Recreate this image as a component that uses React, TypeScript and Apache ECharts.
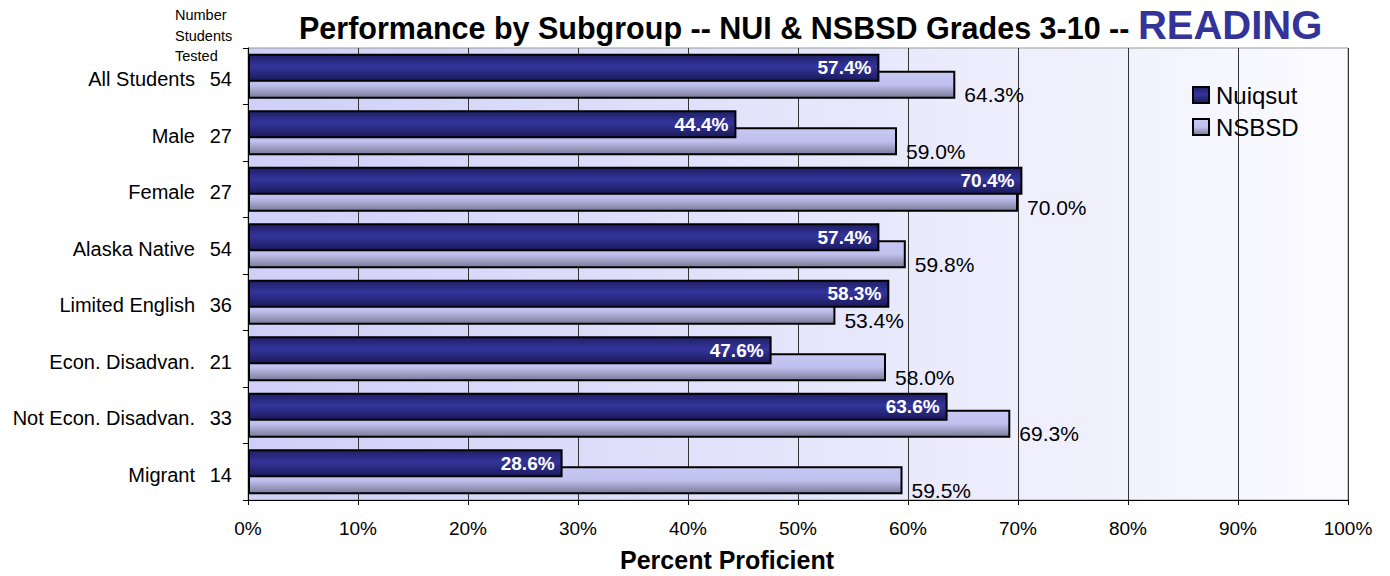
import React, { useEffect, useRef } from "react";
import * as echarts from "echarts";

const categories = [
  "All Students",
  "Male",
  "Female",
  "Alaska Native",
  "Limited English",
  "Econ. Disadvan.",
  "Not Econ. Disadvan.",
  "Migrant",
];
const counts = [54, 27, 27, 54, 36, 21, 33, 14];
const nuiqsut = [57.4, 44.4, 70.4, 57.4, 58.3, 47.6, 63.6, 28.6];
const nsbsd = [64.3, 59.0, 70.0, 59.8, 53.4, 58.0, 69.3, 59.5];
const xTicks = [0, 10, 20, 30, 40, 50, 60, 70, 80, 90, 100];

const FONT = "Liberation Sans, Arial, sans-serif";

export default function App() {
  const ref = useRef<HTMLDivElement>(null);
  useEffect(() => {
    if (!ref.current) return;
    const chart = echarts.init(ref.current, null, { renderer: "svg" });
    const labels = categories.map((c, i) => `{n|${c}}{c|${counts[i]}}`);
    chart.setOption({
      animation: false,
      textStyle: { fontFamily: FONT },
      title: {
        text: "{a|Performance by Subgroup -- NUI & NSBSD Grades 3-10 -- }{b|READING}",
        left: 294,
        top: 0,
        textStyle: {
          rich: {
            a: { fontSize: 30.5, fontWeight: "bold", color: "#000", fontFamily: FONT, verticalAlign: "bottom", padding: [0, 0, 2, 0] },
            b: { fontSize: 40, fontWeight: "bold", color: "#333399", fontFamily: FONT, verticalAlign: "bottom" },
          },
        },
      },
      graphic: [
        {
          type: "text",
          left: 175,
          top: 5,
          style: {
            text: "Number\nStudents\nTested",
            fontSize: 14.5,
            lineHeight: 20.5,
            fill: "#000",
            fontFamily: FONT,
          },
        },
        {
          type: "text",
          x: 727,
          y: 560,
          style: {
            text: "Percent Proficient",
            fontSize: 25,
            fontWeight: "bold",
            fill: "#000",
            align: "center",
            verticalAlign: "middle",
            fontFamily: FONT,
          },
        },
      ],
      legend: {
        orient: "vertical",
        left: 1187,
        top: 78,
        itemWidth: 16,
        itemHeight: 16,
        itemGap: 8,
        icon: "rect",
        textStyle: { fontSize: 24, color: "#000", fontFamily: FONT, padding: [0, 0, 0, 2] },
        data: ["Nuiqsut", "NSBSD"],
      },
      grid: {
        left: 248,
        right: 42,
        top: 48,
        bottom: 76,
        show: true,
        borderColor: "#999",
        borderWidth: 1,
        backgroundColor: new echarts.graphic.LinearGradient(0, 0, 1, 0, [
          { offset: 0, color: "#cfcff8" },
          { offset: 1, color: "#fbfbff" },
        ]),
      },
      xAxis: {
        type: "value",
        min: 0,
        max: 100,
        interval: 10,
        axisLine: { show: true, lineStyle: { color: "#000", width: 1 } },
        axisTick: { show: true, length: 5, lineStyle: { color: "#000" } },
        axisLabel: {
          fontSize: 19,
          color: "#000",
          margin: 19,
          formatter: (v: number) => (xTicks.includes(v) ? `${v}%` : ""),
        },
        splitLine: { show: true, lineStyle: { color: "#333", width: 1 } },
      },
      yAxis: {
        type: "category",
        inverse: true,
        data: labels,
        axisLine: { show: true, lineStyle: { color: "#000", width: 1 } },
        axisTick: { show: true, length: 5, lineStyle: { color: "#000" } },
        axisLabel: {
          color: "#000",
          margin: 16,
          padding: [6, 0, 0, 0],
          rich: {
            n: { fontSize: 20, color: "#000", fontFamily: FONT },
            c: { fontSize: 20, color: "#000", fontFamily: FONT, width: 37, align: "right" },
          },
        },
      },
      series: [
        {
          name: "Nuiqsut",
          type: "bar",
          data: nuiqsut,
          barWidth: 28,
          barGap: "-39%",
          z: 3,
          itemStyle: {
            borderColor: "#000",
            borderWidth: 2,
            color: new echarts.graphic.LinearGradient(0, 0, 0, 1, [
              { offset: 0, color: "#1f1f66" },
              { offset: 0.45, color: "#34349c" },
              { offset: 1, color: "#1a1a5a" },
            ]),
          },
          label: {
            show: true,
            position: "insideRight",
            distance: 8,
            color: "#fff",
            fontWeight: "bold",
            fontSize: 19,
            fontFamily: FONT,
            formatter: (p: any) => `${p.value.toFixed(1)}%`,
          },
        },
        {
          name: "NSBSD",
          type: "bar",
          data: nsbsd,
          barWidth: 28,
          z: 2,
          itemStyle: {
            borderColor: "#000",
            borderWidth: 2,
            color: new echarts.graphic.LinearGradient(0, 0, 0, 1, [
              { offset: 0, color: "#c8c8f4" },
              { offset: 0.5, color: "#c0c0ee" },
              { offset: 1, color: "#7a7a98" },
            ]),
          },
          label: {
            show: true,
            position: "right",
            distance: 9,
            offset: [0, 10],
            color: "#000",
            fontSize: 21,
            fontFamily: FONT,
            formatter: (p: any) => `${p.value.toFixed(1)}%`,
          },
        },
      ],
    });
    return () => chart.dispose();
  }, []);
  return <div ref={ref} style={{ width: 1390, height: 576, position: "absolute", left: 0, top: 0 }} />;
}
